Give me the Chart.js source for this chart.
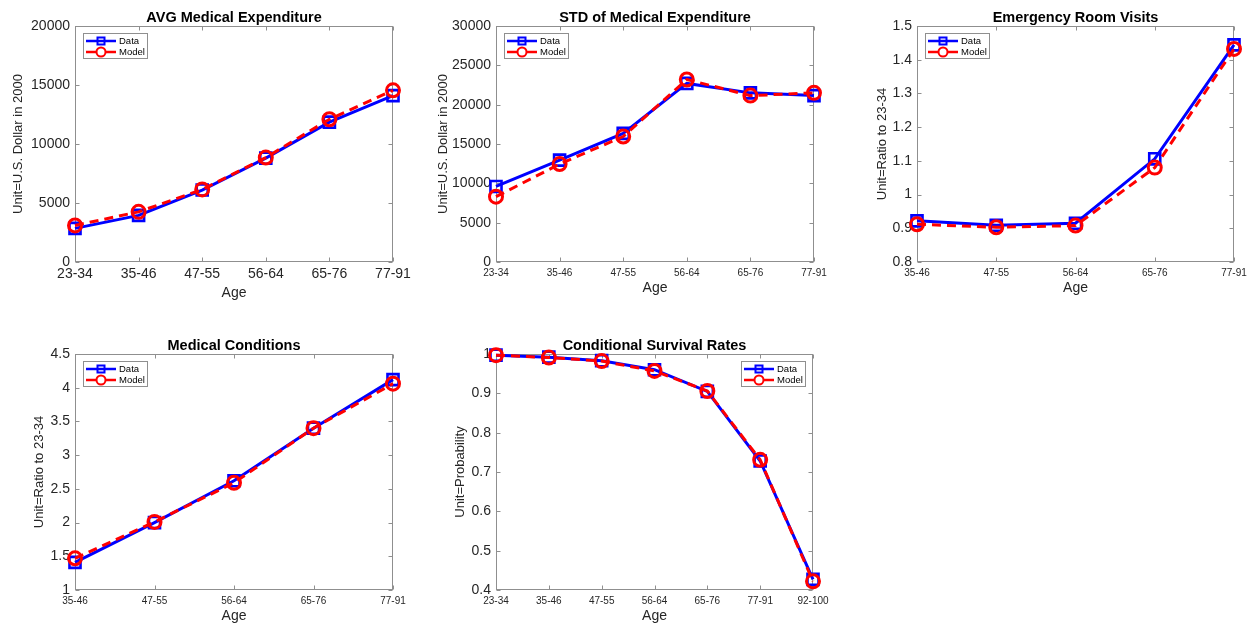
<!DOCTYPE html>
<html><head><meta charset="utf-8">
<script src="https://cdn.jsdelivr.net/npm/chart.js@4"></script>
<style>
html,body{margin:0;padding:0;background:#fff;overflow:hidden;width:1249px;height:623px;position:relative}
canvas{position:absolute}
</style></head><body>
<canvas id="c1"></canvas><canvas id="c2"></canvas><canvas id="c3"></canvas><canvas id="c4"></canvas><canvas id="c5"></canvas>
<script>
// ---- data ----
const ageA = ['23-34','35-46','47-55','56-64','65-76','77-91'];
const ageB = ['35-46','47-55','56-64','65-76','77-91'];
const ageC = ['23-34','35-46','47-55','56-64','65-76','77-91','92-100'];

const avgData  = [2850, 3950, 6100, 8800, 11850, 14100];
const avgModel = [3100, 4250, 6150, 8850, 12100, 14550];

const stdData  = [9600, 12950, 16350, 22700, 21500, 21150];
const stdModel = [8300, 12450, 15950, 23200, 21150, 21500];

const erData  = [0.922, 0.909, 0.915, 1.106, 1.444];
const erModel = [0.912, 0.903, 0.908, 1.080, 1.432];

const condData  = [1.41, 2.00, 2.62, 3.40, 4.12];
const condModel = [1.47, 2.01, 2.59, 3.40, 4.06];

const survData  = [0.997, 0.992, 0.983, 0.960, 0.905, 0.728, 0.427];
const survModel = [0.997, 0.991, 0.982, 0.957, 0.906, 0.731, 0.422];

const seriesNames = ['Data', 'Model'];

// ---- layout / style ----
const FONT = "'Liberation Sans', Arial, Helvetica, sans-serif";
const BOX = '#8f8f8f';
const TXT = '#262626';
const BLUE = '#0000ff', RED = '#ff0000';
const YW = 80, XH = 60, TOPH = 26, RPAD = 40;

const panels = [
  {id:'c1', L:75,  T:26,  R:393,  B:262, title:'AVG Medical Expenditure', labels:ageA, d:avgData, m:avgModel,
   ymin:0, ymax:20000, step:5000, ylab:'Unit=U.S. Dollar in 2000', xfs:14, xpad:4, ylabOff:-57, xlabOff:31, leg:'tl'},
  {id:'c2', L:496, T:26,  R:814,  B:262, title:'STD of Medical Expenditure', labels:ageA, d:stdData, m:stdModel,
   ymin:0, ymax:30000, step:5000, ylab:'Unit=U.S. Dollar in 2000', xfs:10, xpad:5, ylabOff:-53, xlabOff:26, leg:'tl'},
  {id:'c3', L:917, T:26,  R:1234, B:262, title:'Emergency Room Visits', labels:ageB, d:erData, m:erModel,
   ymin:0.8, ymax:1.5, step:0.1, ylab:'Unit=Ratio to 23-34', xfs:10, xpad:5, ylabOff:-35, xlabOff:26, leg:'tl'},
  {id:'c4', L:75,  T:354, R:393,  B:590, title:'Medical Conditions', labels:ageB, d:condData, m:condModel,
   ymin:1, ymax:4.5, step:0.5, ylab:'Unit=Ratio to 23-34', xfs:10, xpad:5, ylabOff:-36, xlabOff:26, leg:'tl'},
  {id:'c5', L:496, T:354, R:813,  B:590, title:'Conditional Survival Rates', labels:ageC, d:survData, m:survModel,
   ymin:0.4, ymax:1.0, step:0.1, ylab:'Unit=Probability', xfs:10, xpad:5, ylabOff:-36, xlabOff:26, leg:'tr'}
];

const framePlugin = {
  id: 'frame',
  beforeDatasetsDraw(chart) {
    const {ctx, chartArea: a, scales: {x, y}} = chart;
    ctx.save();
    ctx.strokeStyle = BOX; ctx.lineWidth = 1;
    const l = Math.round(a.left) + 0.5, r = Math.round(a.right) - 0.5;
    const t = Math.round(a.top) + 0.5, b = Math.round(a.bottom) - 0.5;
    ctx.strokeRect(l, t, r - l, b - t);
    const TL = 4;
    ctx.beginPath();
    x.ticks.forEach((tk, i) => {
      const px = Math.round(x.getPixelForTick(i)) + 0.5;
      ctx.moveTo(px, b); ctx.lineTo(px, b - TL);
      ctx.moveTo(px, t); ctx.lineTo(px, t + TL);
    });
    y.ticks.forEach((tk, i) => {
      const py = Math.round(y.getPixelForTick(i)) + 0.5;
      ctx.moveTo(l, py); ctx.lineTo(l + TL, py);
      ctx.moveTo(r, py); ctx.lineTo(r - TL, py);
    });
    ctx.stroke();
    ctx.restore();
  }
};

const legendPlugin = {
  id: 'matlabLegend',
  afterDraw(chart, args, opts) {
    const {ctx, chartArea: a} = chart;
    const w = 65, h = 26;
    const bx = opts.corner === 'tr' ? Math.round(a.right) - 7 - w : Math.round(a.left) + 8;
    const by = Math.round(a.top) + 7;
    ctx.save();
    ctx.fillStyle = '#fff';
    ctx.fillRect(bx, by, w, h);
    ctx.strokeStyle = BOX; ctx.lineWidth = 1;
    ctx.strokeRect(bx + 0.5, by + 0.5, w - 1, h - 1);
    const rows = [
      {name: seriesNames[0], color: BLUE, shape: 'sq', y: by + 8},
      {name: seriesNames[1], color: RED, shape: 'ci', y: by + 19}
    ];
    rows.forEach(rw => {
      ctx.strokeStyle = rw.color; ctx.lineWidth = 2.5; ctx.setLineDash([]);
      ctx.beginPath(); ctx.moveTo(bx + 3, rw.y); ctx.lineTo(bx + 33, rw.y); ctx.stroke();
      const cx = bx + 18;
      ctx.lineWidth = 2;
      ctx.beginPath();
      if (rw.shape === 'sq') { ctx.rect(cx - 3.5, rw.y - 3.5, 7, 7); }
      else { ctx.arc(cx, rw.y, 4.5, 0, Math.PI * 2); }
      ctx.fillStyle = '#fff';
      if (rw.shape === 'ci') ctx.fill();
      ctx.stroke();
      ctx.fillStyle = '#000';
      ctx.font = '9.5px ' + FONT;
      ctx.textAlign = 'left'; ctx.textBaseline = 'middle';
      ctx.fillText(rw.name, bx + 36, rw.y + 0.5);
    });
    ctx.restore();
  }
};

const fmt = v => String(+(+v).toFixed(3));

panels.forEach(p => {
  const cv = document.getElementById(p.id);
  const W = (p.R - p.L) + YW + RPAD;
  const H = (p.B - p.T) + TOPH + XH;
  cv.width = W; cv.height = H;
  cv.style.width = W + 'px'; cv.style.height = H + 'px';
  cv.style.left = (p.L - YW) + 'px'; cv.style.top = (p.T - TOPH) + 'px';

  new Chart(cv.getContext('2d'), {
    type: 'line',
    data: {
      labels: p.labels,
      datasets: [
        {label: seriesNames[0], data: p.d, order: 1, borderColor: BLUE, borderWidth: 3, tension: 0,
         pointStyle: 'rect', pointRadius: 7.8, pointBorderWidth: 2.6, pointBorderColor: BLUE,
         pointBackgroundColor: 'rgba(0,0,0,0)', clip: false, fill: false},
        {label: seriesNames[1], data: p.m, order: 0, borderColor: RED, borderWidth: 3, borderDash: [9, 6], tension: 0,
         pointStyle: 'circle', pointRadius: 6.5, pointBorderWidth: 3, pointBorderColor: RED,
         pointBackgroundColor: 'rgba(0,0,0,0)', clip: false, fill: false}
      ]
    },
    options: {
      responsive: false, animation: false, devicePixelRatio: 1, events: [],
      layout: {padding: {top: 0, left: 0, right: RPAD, bottom: 0}},
      plugins: {
        legend: {display: false}, tooltip: {enabled: false},
        title: {display: true, text: p.title, fullSize: false, color: '#000',
                font: {family: FONT, size: 14.5, weight: 'bold', lineHeight: 1},
                padding: {top: 10.75, bottom: 0.75}},
        matlabLegend: {corner: p.leg}
      },
      scales: {
        x: {
          type: 'category', offset: false,
          grid: {display: false, drawTicks: false}, border: {display: false},
          ticks: {color: TXT, font: {family: FONT, size: p.xfs}, padding: p.xpad, autoSkip: false, maxRotation: 0, minRotation: 0},
          title: {display: true, text: 'Age', color: TXT, font: {family: FONT, size: 14, lineHeight: 1.2},
                  padding: {top: 0, bottom: XH - 8.4 - p.xlabOff}},
          afterFit: s => { s.height = XH; }
        },
        y: {
          min: p.ymin, max: p.ymax,
          grid: {display: false, drawTicks: false}, border: {display: false},
          ticks: {stepSize: p.step, color: TXT, font: {family: FONT, size: 14}, padding: 5, callback: fmt},
          title: {display: true, text: p.ylab, color: TXT, font: {family: FONT, size: 13, lineHeight: 1.2},
                  padding: {top: YW + p.ylabOff - 7.8, bottom: 0}},
          afterFit: s => { s.width = YW; }
        }
      }
    },
    plugins: [framePlugin, legendPlugin]
  });
});
</script>
</body></html>
